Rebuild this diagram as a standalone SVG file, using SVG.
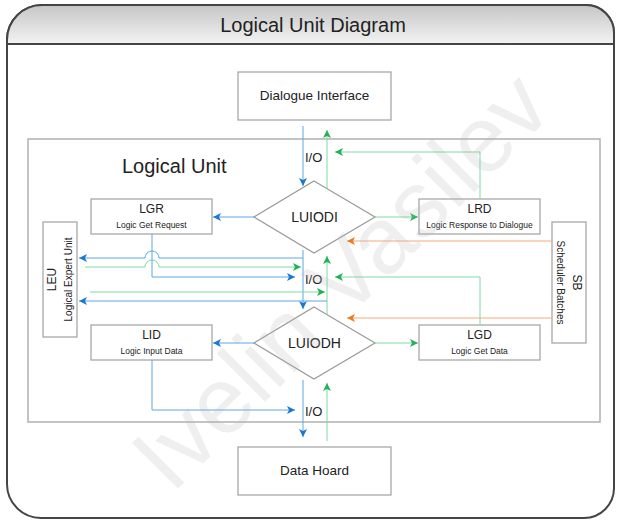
<svg xmlns="http://www.w3.org/2000/svg" width="617" height="520" viewBox="0 0 617 520">
<style>
text{font-family:"Liberation Sans",Arial,sans-serif;fill:#222}
.box{fill:#fff;stroke:#a8a8a8;stroke-width:1.3}
.dia{fill:#fff;stroke:#9a9a9a;stroke-width:1.2}
.bl{fill:none;stroke:#5ea6e4;stroke-width:1}
.gr{fill:none;stroke:#7fd9a4;stroke-width:1}
.or{fill:none;stroke:#f5a878;stroke-width:1}
.big{font-size:12px}
.small{font-size:8.5px}
.mid{text-anchor:middle}
.ab{marker-end:url(#ab)}
.ag{marker-end:url(#ag)}
.ao{marker-end:url(#ao)}
</style>
<defs>
<linearGradient id="tg" x1="0" y1="0" x2="0" y2="1">
<stop offset="0" stop-color="#c6c6c6"/>
<stop offset="1" stop-color="#f3f3f3"/>
</linearGradient>
<marker id="ab" markerUnits="userSpaceOnUse" markerWidth="9" markerHeight="8" refX="8" refY="4" orient="auto"><path d="M0,0 L8,4 L0,8 L2,4 z" fill="#1a78d0"/></marker>
<marker id="ag" markerUnits="userSpaceOnUse" markerWidth="9" markerHeight="8" refX="8" refY="4" orient="auto"><path d="M0,0 L8,4 L0,8 L2,4 z" fill="#1fb257"/></marker>
<marker id="ao" markerUnits="userSpaceOnUse" markerWidth="9" markerHeight="8" refX="8" refY="4" orient="auto"><path d="M0,0 L8,4 L0,8 L2,4 z" fill="#ef7a22"/></marker>
</defs>

<g id="frame">
<path d="M7,40 A35,35 0 0 1 42,5 L586,5 A28,28 0 0 1 614,33 L614,488 A30,30 0 0 1 584,518 L41,518 A34,34 0 0 1 7,484 Z" fill="#fff" stroke="#444" stroke-width="2"/>
<path d="M7,40 A35,35 0 0 1 42,5 L586,5 A28,28 0 0 1 614,33 L614,44 L7,44 Z" fill="url(#tg)" stroke="#444" stroke-width="2"/>
<text x="313" y="32" class="mid" style="font-size:20px">Logical Unit Diagram</text>
</g>

<g id="logical-unit">
<rect x="28" y="139" width="572" height="283" fill="#fff" stroke="#b0b0b0" stroke-width="1.5"/>
<text x="122" y="173" style="font-size:20px">Logical Unit</text>
</g>

<g id="dialogue-interface">
<rect class="box" x="238" y="72" width="153" height="48"/>
<text x="314.5" y="100" class="mid" style="font-size:13.5px">Dialogue Interface</text>
</g>

<g id="data-hoard">
<rect class="box" x="238" y="447" width="153" height="48"/>
<text x="314.5" y="475" class="mid" style="font-size:13.5px">Data Hoard</text>
</g>

<g id="lgr">
<rect class="box" x="91" y="199" width="121" height="35"/>
<text x="151.5" y="213" class="mid big">LGR</text>
<text x="151.5" y="228" class="mid small">Logic Get Request</text>
</g>

<g id="lrd">
<rect class="box" x="419" y="199" width="121" height="35"/>
<text x="479.5" y="213" class="mid big">LRD</text>
<text x="479.5" y="228" class="mid small">Logic Response to Dialogue</text>
</g>

<g id="lid">
<rect class="box" x="91" y="325" width="121" height="35"/>
<text x="151.5" y="339" class="mid big">LID</text>
<text x="151.5" y="354" class="mid small">Logic Input Data</text>
</g>

<g id="lgd">
<rect class="box" x="419" y="325" width="121" height="35"/>
<text x="479.5" y="339" class="mid big">LGD</text>
<text x="479.5" y="354" class="mid small">Logic Get Data</text>
</g>

<g id="leu">
<rect class="box" x="43" y="222" width="34" height="115"/>
<text transform="translate(56 279.5) rotate(-90)" class="mid big">LEU</text>
<text transform="translate(72 279.5) rotate(-90)" class="mid" style="font-size:10px">Logical Expert Unit</text>
</g>

<g id="sb">
<rect class="box" x="552" y="222" width="34" height="121"/>
<text transform="translate(573 282.5) rotate(90)" class="mid big">SB</text>
<text transform="translate(557 282.5) rotate(90)" class="mid" style="font-size:10px">Scheduler Batches</text>
</g>

<g id="luiodi">
<polygon class="dia" points="314,181 375,217 314,253 254,217"/>
<text x="314.5" y="222" class="mid" style="font-size:14px">LUIODI</text>
</g>

<g id="luiodh">
<polygon class="dia" points="314,307 375,343 314,379 254,343"/>
<text x="314.5" y="348" class="mid" style="font-size:14px">LUIODH</text>
</g>

<g id="connectors">
<path class="bl ab" d="M303,126 L303,186"/>
<path class="gr ag" d="M327,189 L327,130"/>
<path class="gr ag" d="M480,199 L480,152 L335,152"/>
<path class="bl ab" d="M254,217 L213,217"/>
<path class="gr ag" d="M375,217 L418,217"/>
<path class="or ao" d="M552,241 L347,241"/>
<path class="bl ab" d="M303,250 L303,309"/>
<path class="gr ag" d="M327,315 L327,256"/>
<path class="bl ab" d="M303,258 L159,258 A7,7 0 0 0 145,258 L79,258"/>
<path class="gr ag" d="M85,267 L145,267 A7,7 0 0 1 159,267 L301,267"/>
<path class="bl ab" d="M152,234 L152,277 L295,277"/>
<path class="gr ag" d="M480,325 L480,277 L335,277"/>
<path class="gr ag" d="M90,292 L325,292"/>
<path class="bl ab" d="M327,301 L79,301"/>
<path class="or ao" d="M552,318 L347,318"/>
<path class="bl ab" d="M254,343 L213,343"/>
<path class="gr ag" d="M375,343 L418,343"/>
<path class="bl ab" d="M303,380 L303,437"/>
<path class="gr ag" d="M327,441 L327,383"/>
<path class="bl ab" d="M152,360 L152,410 L295,410"/>
</g>

<g id="io-labels" style="font-size:13px">
<text x="305" y="162">I/O</text>
<text x="305" y="284">I/O</text>
<text x="305" y="416">I/O</text>
</g>

<g id="watermark">
<text x="340" y="313" class="mid" transform="rotate(-45 340 280)" style="font-size:94px;fill:#b8b8b8;opacity:0.22">Ivelin Vasilev</text>
</g>
</svg>
